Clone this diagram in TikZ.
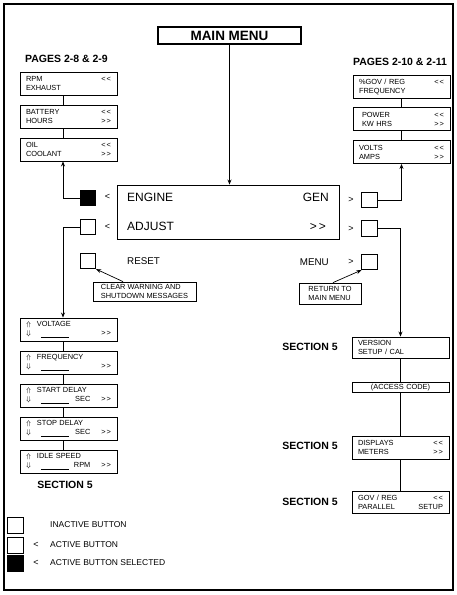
\documentclass[tikz,border=0pt]{standalone}
\usepackage{fontspec}
\setmainfont{Liberation Sans}
\usepackage{tikz}
\usetikzlibrary{positioning,arrows.meta}
\newcommand{\rt}[1]{\hskip 0pt plus 1filll\relax #1\hspace*{4pt}}
\newcommand{\bk}{<\kern1pt<}
\newcommand{\fw}{>\kern1pt>}
\newcommand{\blank}{\rule[-2pt]{28pt}{1pt}}
\tikzset{
  every node/.style={inner sep=0pt},
  % --- nodes
  scr/.style  = {draw, line width=0.9pt, minimum width=97pt, minimum height=23pt,
                 inner xsep=6pt, inner ysep=0pt, text width=85pt, align=left,
                 font=\fontsize{7.4}{9}\selectfont},
  btn/.style  = {draw, line width=0.8pt, minimum size=15.5pt},
  sel/.style  = {btn, fill=black},
  note/.style = {draw, line width=0.8pt, align=left, inner xsep=4pt,
                 font=\fontsize{7.4}{9}\selectfont},
  head/.style = {font=\fontsize{10.5}{12}\selectfont\bfseries},
  big/.style  = {font=\fontsize{12}{14}\selectfont},
  mid/.style  = {font=\fontsize{9.8}{12}\selectfont},
  lt/.style   = {font=\fontsize{9}{11}\selectfont},
  leg/.style  = {font=\fontsize{8.5}{10}\selectfont},
  % --- edges
  e/.style    = {-{Stealth[length=5pt,width=4pt]}, line width=0.7pt},
  ln/.style   = {line width=0.7pt},
}
\begin{document}
\begin{tikzpicture}[x=1pt,y=-1pt]
  \useasboundingbox (0,0) rectangle (456,595);
  \draw[line width=2pt] (3.5,4) rectangle (452.5,590);

  % main menu and display
  \node[draw, line width=1.8pt, minimum width=143pt, minimum height=17pt,
        font=\fontsize{13.5}{16}\selectfont\bfseries] (main) at (229.5,35.5) {MAIN MENU};
  \node[draw, line width=0.9pt, minimum width=222pt, minimum height=54pt] (disp) at (228,212) {};
  \node[big, anchor=west] (engine) at (127,197) {ENGINE};
  \node[big, anchor=west] (adjust) at (127,226) {ADJUST};
  \node[big, anchor=east] (gen) at (329,197) {GEN};
  \node[big, anchor=east] (more) at (326,227) {>\kern2pt>};

  % buttons
  \node[sel] (engbtn) at (88,198) {};
  \node[btn] (adjbtn) at (88,227) {};
  \node[btn] (resbtn) at (88,261) {};
  \node[lt] (engl) at (107.5,197) {<};
  \node[lt] (adjl) at (107.5,227) {<};
  \node[mid, anchor=west] (reset) at (127,261) {RESET};
  \node[btn] (genbtn) at (369.5,200) {};
  \node[btn] (morebtn) at (369.5,228.5) {};
  \node[btn] (menubtn) at (369.5,262) {};
  \node[lt] (genr) at (351,200) {>};
  \node[lt] (morer) at (351,229) {>};
  \node[lt] (menur) at (351,262) {>};
  \node[mid, anchor=east] (menu) at (329,262) {MENU};

  % engine pages
  \node[head] (pagesl) at (66.5,59) {PAGES 2-8 \& 2-9};
  \node[scr] (rpm) at (68.5,83.5) {RPM\rt{\bk}\\EXHAUST};
  \node[scr] (bat) at (68.5,116.5) {BATTERY\rt{\bk}\\HOURS\rt{\fw}};
  \node[scr] (oil) at (68.5,149.5) {OIL\rt{\bk}\\COOLANT\rt{\fw}};

  % gen pages
  \node[head] (pagesr) at (400,62) {PAGES 2-10 \& 2-11};
  \node[scr] (gov) at (401.5,87) {\%GOV / REG\rt{\bk}\\FREQUENCY};
  \node[scr] (pow) at (401.5,119) {\hspace*{3pt}POWER\rt{\bk}\\\hspace*{3pt}KW HRS\rt{\fw}};
  \node[scr] (volts) at (401.5,152) {VOLTS\rt{\bk}\\AMPS\rt{\fw}};

  % adjust pages
  \node[scr] (volt) at (68.5,329.5) {$\Uparrow$\hspace{6pt}VOLTAGE\\$\Downarrow$\hspace{10pt}\blank\rt{\fw}};
  \node[scr] (freq) at (68.5,362.5) {$\Uparrow$\hspace{6pt}FREQUENCY\\$\Downarrow$\hspace{10pt}\blank\rt{\fw}};
  \node[scr] (start) at (68.5,395.5) {$\Uparrow$\hspace{6pt}START DELAY\\$\Downarrow$\hspace{10pt}\blank\rt{SEC\hspace{11pt}\fw}};
  \node[scr] (stop) at (68.5,428.5) {$\Uparrow$\hspace{6pt}STOP DELAY\\$\Downarrow$\hspace{10pt}\blank\rt{SEC\hspace{11pt}\fw}};
  \node[scr] (idle) at (68.5,461.5) {$\Uparrow$\hspace{6pt}IDLE SPEED\\$\Downarrow$\hspace{10pt}\blank\rt{RPM\hspace{11pt}\fw}};
  \node[head] (secl) at (65,485) {SECTION 5};

  % menu pages
  \node[scr, minimum height=21pt] (ver) at (400.5,347.5) {VERSION\\SETUP / CAL};
  \node[scr, minimum height=10pt, align=center] (acc) at (400.5,387.5) {(ACCESS CODE)};
  \node[scr] (disps) at (400.5,447.5) {DISPLAYS\rt{\bk}\\METERS\rt{\fw}};
  \node[scr, minimum height=22pt] (par) at (400.5,502) {GOV / REG\rt{\bk}\\PARALLEL\rt{SETUP}};
  \node[head] (sec1) at (310,347) {SECTION 5};
  \node[head] (sec2) at (310,446) {SECTION 5};
  \node[head] (sec3) at (310,502) {SECTION 5};

  % notes
  \node[note, minimum width=103pt, minimum height=19pt] (clr) at (144.5,291.5) {CLEAR WARNING AND\\SHUTDOWN MESSAGES};
  \node[note, minimum width=62pt, minimum height=21pt] (ret) at (330,293.5) {RETURN TO\\MAIN MENU};

  % legend
  \node[btn, minimum size=16pt] (lg1) at (15.5,525.5) {};
  \node[btn, minimum size=16pt] (lg2) at (15.5,545) {};
  \node[sel, minimum size=16pt] (lg3) at (15.5,563.5) {};
  \node[lt] (lg2l) at (36,545) {<};
  \node[lt] (lg3l) at (36,563) {<};
  \node[leg, anchor=west] (lt1) at (50,525) {INACTIVE BUTTON};
  \node[leg, anchor=west] (lt2) at (50,545) {ACTIVE BUTTON};
  \node[leg, anchor=west] (lt3) at (50,563) {ACTIVE BUTTON SELECTED};

  % connectors
  \coordinate (lb) at (63,0);
  \draw[e] (main) -- (main |- disp.north);
  \draw[ln] (rpm.south -| lb) -- (bat.north -| lb);
  \draw[ln] (bat.south -| lb) -- (oil.north -| lb);
  \draw[e] (engbtn.west) -| (oil.south -| lb);
  \draw[e] (adjbtn.west) -| (volt.north -| lb);
  \foreach \a/\b in {volt/freq,freq/start,start/stop,stop/idle}
    \draw[ln] (\a.south -| lb) -- (\b.north -| lb);
  \draw[ln] (gov.south) -- (pow.north);
  \draw[ln] (pow.south) -- (volts.north);
  \draw[e] (genbtn.east) -| (volts.south);
  \draw[e] (morebtn.east) -| (ver.north);
  \draw[ln] (ver.south) -- (acc.north);
  \draw[ln] (acc.south) -- (disps.north);
  \draw[ln] (disps.south) -- (par.north);
  \draw[e] ([xshift=-21.5pt]clr.north) -- (resbtn.south east);
  \draw[e] ([xshift=3pt]ret.north) -- (menubtn.south west);
\end{tikzpicture}
\end{document}
